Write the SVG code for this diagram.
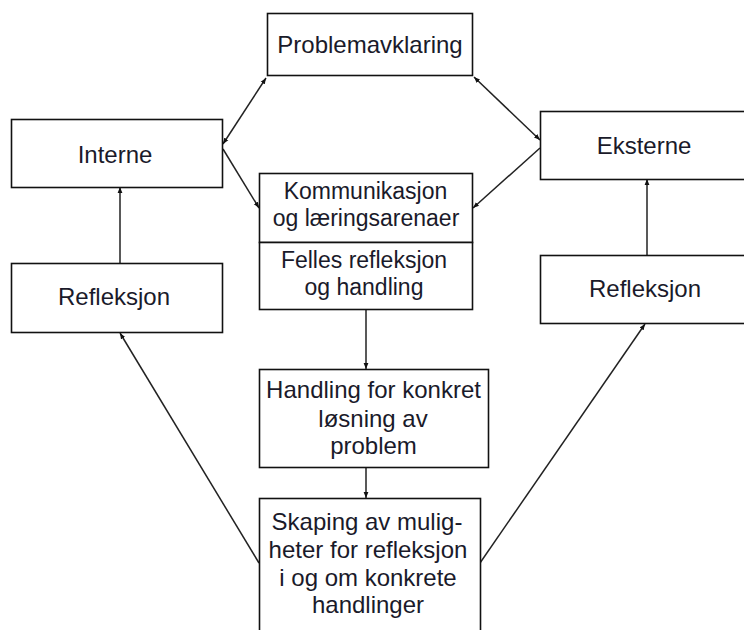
<svg xmlns="http://www.w3.org/2000/svg" width="744" height="630" viewBox="0 0 744 630">
<style>
.box{fill:#fff;stroke:#111;stroke-width:1.6}
.t{font-family:"Liberation Sans",Arial,sans-serif;font-size:24px;fill:#1a1a2a;text-anchor:middle}
.s{font-size:23px}
.c{fill:none;stroke:#222;stroke-width:1.5}
</style>
<defs>
<marker id="ah" viewBox="0 0 10 10" refX="10" refY="5" markerWidth="6" markerHeight="6" orient="auto-start-reverse" markerUnits="userSpaceOnUse">
<path d="M0,1 L10,5 L0,9 z" fill="#111"/>
</marker>
</defs>
<rect width="744" height="630" fill="#fff"/>
<g id="connectors">
<line class="c" x1="266" y1="78" x2="223" y2="144" marker-start="url(#ah)" marker-end="url(#ah)"/>
<line class="c" x1="223" y1="149" x2="259" y2="208" marker-end="url(#ah)"/>
<line class="c" x1="474" y1="77" x2="540" y2="140" marker-start="url(#ah)" marker-end="url(#ah)"/>
<line class="c" x1="540" y1="148" x2="473" y2="208" marker-end="url(#ah)"/>
<line class="c" x1="120" y1="263" x2="120" y2="187" marker-end="url(#ah)"/>
<line class="c" x1="647" y1="255" x2="647" y2="179" marker-end="url(#ah)"/>
<line class="c" x1="366" y1="309" x2="366" y2="369" marker-end="url(#ah)"/>
<line class="c" x1="366" y1="467" x2="366" y2="498" marker-end="url(#ah)"/>
<line class="c" x1="259" y1="563" x2="120" y2="333" marker-end="url(#ah)"/>
<line class="c" x1="480" y1="563" x2="645" y2="324" marker-end="url(#ah)"/>
</g>
<g id="problemavklaring">
<rect class="box" x="267.5" y="13.5" width="205" height="62"/>
<text class="t" x="370" y="53">Problemavklaring</text>
</g>
<g id="interne">
<rect class="box" x="11.5" y="119.5" width="211" height="68"/>
<text class="t" x="115" y="163">Interne</text>
</g>
<g id="refleksjon-venstre">
<rect class="box" x="11.5" y="263.5" width="211" height="69"/>
<text class="t" x="114" y="305">Refleksjon</text>
</g>
<g id="eksterne">
<rect class="box" x="540.5" y="111.5" width="220" height="68"/>
<text class="t" x="644" y="154">Eksterne</text>
</g>
<g id="refleksjon-hoyre">
<rect class="box" x="540.5" y="255.5" width="220" height="68"/>
<text class="t" x="645" y="297">Refleksjon</text>
</g>
<g id="kommunikasjon">
<rect class="box" x="259.5" y="173.5" width="213" height="69"/>
<text class="t s" x="365.5" y="199">Kommunikasjon</text>
<text class="t s" x="366" y="226">og læringsarenaer</text>
</g>
<g id="felles">
<rect class="box" x="259.5" y="242.5" width="213" height="67"/>
<text class="t s" x="364" y="268">Felles refleksjon</text>
<text class="t s" x="364" y="295">og handling</text>
</g>
<g id="handling">
<rect class="box" x="259.5" y="369.5" width="229" height="98"/>
<text class="t" x="373.5" y="398">Handling for konkret</text>
<text class="t" x="373" y="427">løsning av</text>
<text class="t" x="373.5" y="454">problem</text>
</g>
<g id="skaping">
<rect class="box" x="259.5" y="498.5" width="221" height="140"/>
<text class="t" x="367" y="530">Skaping av mulig-</text>
<text class="t" x="368" y="558">heter for refleksjon</text>
<text class="t" x="368" y="586">i og om konkrete</text>
<text class="t" x="368" y="613">handlinger</text>
</g>
</svg>
